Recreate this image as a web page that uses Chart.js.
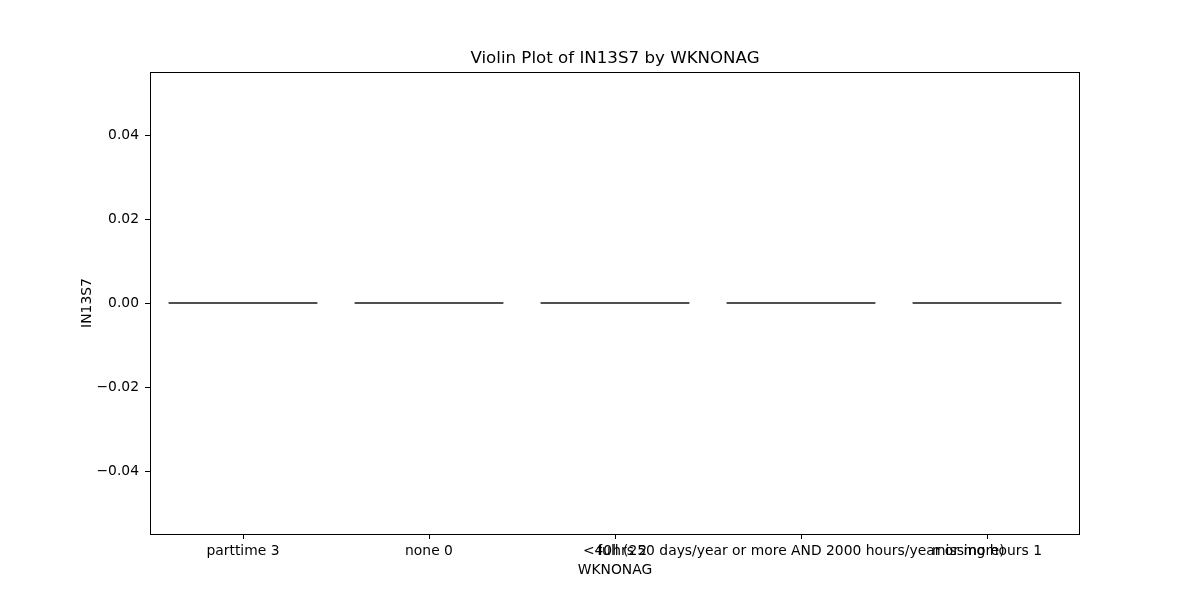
<!DOCTYPE html>
<html>
<head>
<meta charset="utf-8">
<script src="https://cdn.jsdelivr.net/npm/chart.js@4"></script>
<style>
  html, body { margin: 0; padding: 0; background: #fff; }
  #wrap { width: 1200px; height: 600px; }
</style>
</head>
<body>
<div id="wrap"><canvas id="c" width="1200" height="600"></canvas></div>
<script>
// Categories (x axis) and the range of IN13S7 values in each violin (all observed values are 0)
const categories = ["parttime 3", "none 0", "<40hrs 2", "full (250 days/year or more AND 2000 hours/year or more)", "missing hours 1"];
const violinMin = [0, 0, 0, 0, 0];
const violinMax = [0, 0, 0, 0, 0];
const yTicks = [-0.04, -0.02, 0.00, 0.02, 0.04];
const violinWidth = 0.8;

const FONT = "'DejaVu Sans', sans-serif";
const FS = 13.89;

const datasets = categories.map((c, i) => ({
  label: c,
  data: [
    { x: i - violinWidth / 2, y: violinMin[i] },
    { x: i + violinWidth / 2, y: violinMax[i] }
  ],
  showLine: true,
  borderColor: '#505050',
  borderWidth: 2,
  pointRadius: 0,
  borderCapStyle: 'butt'
}));

const framePlugin = {
  id: 'frame',
  afterDraw(chart) {
    const { ctx, chartArea: a } = chart;
    ctx.save();
    ctx.strokeStyle = '#000';
    ctx.lineWidth = 1;
    ctx.strokeRect(Math.round(a.left) + 0.5, Math.round(a.top) + 0.5, Math.round(a.right - a.left) - 1, Math.round(a.bottom - a.top));
    ctx.restore();
  }
};

new Chart(document.getElementById('c'), {
  type: 'scatter',
  data: { datasets },
  options: {
    responsive: false,
    animation: false,
    devicePixelRatio: 1,
    layout: { padding: { left: 30, right: 0, top: 0, bottom: 0 } },
    plugins: {
      legend: { display: false },
      tooltip: { enabled: false },
      title: {
        display: true,
        text: 'Violin Plot of IN13S7 by WKNONAG',
        color: '#000',
        font: { family: FONT, size: 16.67, weight: 'normal', lineHeight: 1.2 },
        padding: { top: 49, bottom: 3 }
      }
    },
    scales: {
      x: {
        type: 'linear',
        min: -0.5,
        max: categories.length - 0.5,
        afterBuildTicks(scale) { scale.ticks = categories.map((c, i) => ({ value: i })); },
        afterFit(scale) { scale.height = 66; },
        ticks: {
          autoSkip: false,
          maxRotation: 0,
          minRotation: 0,
          color: '#000',
          padding: 4,
          font: { family: FONT, size: FS },
          callback: (v) => categories[Math.round(v)] ?? ''
        },
        grid: { drawOnChartArea: false, tickLength: 5, color: '#000', tickColor: '#000' },
        border: { display: false },
        title: {
          display: true,
          text: 'WKNONAG',
          color: '#000',
          font: { family: FONT, size: FS, lineHeight: 1.2 },
          padding: { top: 0, bottom: 21 }
        }
      },
      y: {
        type: 'linear',
        position: 'left',
        min: -0.055,
        max: 0.055,
        afterBuildTicks(scale) { scale.ticks = yTicks.map(v => ({ value: v })); },
        afterFit(scale) { scale.width = 120; },
        ticks: {
          color: '#000',
          padding: 6,
          font: { family: FONT, size: FS },
          callback: (v) => v.toFixed(2).replace('-', '\u2212').replace('\u22120.00', '0.00')
        },
        grid: { drawOnChartArea: false, tickLength: 5, color: '#000', tickColor: '#000' },
        border: { display: false },
        title: {
          display: true,
          text: 'IN13S7',
          color: '#000',
          font: { family: FONT, size: FS, lineHeight: 1.2 },
          padding: { top: 49, bottom: 0 }
        }
      },
      yRightSpace: {
        type: 'linear',
        position: 'right',
        display: true,
        afterFit(scale) { scale.width = 120; },
        ticks: { display: false },
        grid: { display: false },
        border: { display: false }
      }
    }
  },
  plugins: [framePlugin]
});
</script>
</body>
</html>
